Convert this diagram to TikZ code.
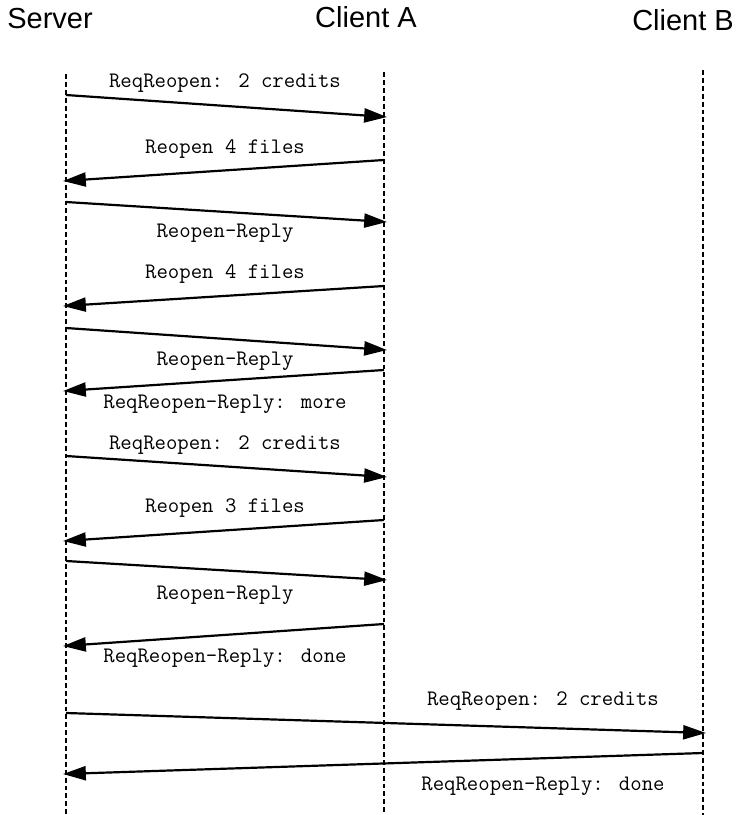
\documentclass[tikz,border=0pt]{standalone}
\usepackage{fontspec}
\setmainfont{Liberation Sans}
\usetikzlibrary{arrows.meta}

\begin{document}
\begin{tikzpicture}[x=0.02cm, y=-0.02cm,
	lifeline/.style={line width=1.3pt, dash pattern=on 2.8pt off 1.7pt},
	msg/.style={line width=1.25pt, -{Triangle[length=13pt,width=8pt]}},
	title/.style={font=\fontsize{16.5}{18}\selectfont, inner sep=0pt},
	lbl/.style={font=\ttfamily\fontsize{12.6}{13}\selectfont, inner sep=0pt}]
			
			\useasboundingbox (0,0) rectangle (736,815);
			
			% Column headings
			\node[title] (server) at (50,19) {Server};
			\node[title] (clienta) at (366,17.5) {Client A};
			\node[title] (clientb) at (683,20) {Client B};
			
			% Lifelines
			\coordinate (s-top) at (66,74);   \coordinate (s-bot) at (66,815);
			\coordinate (a-top) at (384,72);  \coordinate (a-bot) at (384,815);
			\coordinate (b-top) at (703,70);  \coordinate (b-bot) at (703,815);
			\draw[lifeline] (s-top) -- (s-bot);
			\draw[lifeline] (a-top) -- (a-bot);
			\draw[lifeline] (b-top) -- (b-bot);
			
			% Message end points (s = server side, a = client A, b = client B)
			\coordinate (s1) at (66,95);   \coordinate (a1) at (387,117);
			\coordinate (a2) at (384,160); \coordinate (s2) at (63,181);
			\coordinate (s3) at (66,202);  \coordinate (a3) at (387,222);
			\coordinate (a4) at (384,286); \coordinate (s4) at (63,306);
			\coordinate (s5) at (66,328);  \coordinate (a5) at (387,350);
			\coordinate (a6) at (384,370); \coordinate (s6) at (63,391);
			\coordinate (s7) at (66,456);  \coordinate (a7) at (387,477);
			\coordinate (a8) at (384,520); \coordinate (s8) at (63,541);
			\coordinate (s9) at (66,561);  \coordinate (a9) at (387,580);
			\coordinate (a10) at (384,624); \coordinate (s10) at (63,646);
			\coordinate (s11) at (66,713); \coordinate (b11) at (706,733);
			\coordinate (b12) at (703,753); \coordinate (s12) at (63,774);
			
			% Messages
			\draw[msg] (s1) -- (a1);
			\draw[msg] (a2) -- (s2);
			\draw[msg] (s3) -- (a3);
			\draw[msg] (a4) -- (s4);
			\draw[msg] (s5) -- (a5);
			\draw[msg] (a6) -- (s6);
			\draw[msg] (s7) -- (a7);
			\draw[msg] (a8) -- (s8);
			\draw[msg] (s9) -- (a9);
			\draw[msg] (a10) -- (s10);
			\draw[msg] (s11) -- (b11);
			\draw[msg] (b12) -- (s12);
			
			% Message labels
			\node[lbl] (l1) at (225,83) {ReqReopen: 2 credits};
			\node[lbl] (l2) at (225,149) {Reopen 4 files};
			\node[lbl] (l3) at (225,233) {Reopen-Reply};
			\node[lbl] (l4) at (225,274) {Reopen 4 files};
			\node[lbl] (l5) at (225,361) {Reopen-Reply};
			\node[lbl] (l6) at (225,404) {ReqReopen-Reply: more};
			\node[lbl] (l7) at (225,445) {ReqReopen: 2 credits};
			\node[lbl] (l8) at (225,508) {Reopen 3 files};
			\node[lbl] (l9) at (225,595) {Reopen-Reply};
			\node[lbl] (l10) at (225,658) {ReqReopen-Reply: done};
			\node[lbl] (l11) at (543,701) {ReqReopen: 2 credits};
			\node[lbl] (l12) at (543,786) {ReqReopen-Reply: done};
		\end{tikzpicture}
\end{document}
